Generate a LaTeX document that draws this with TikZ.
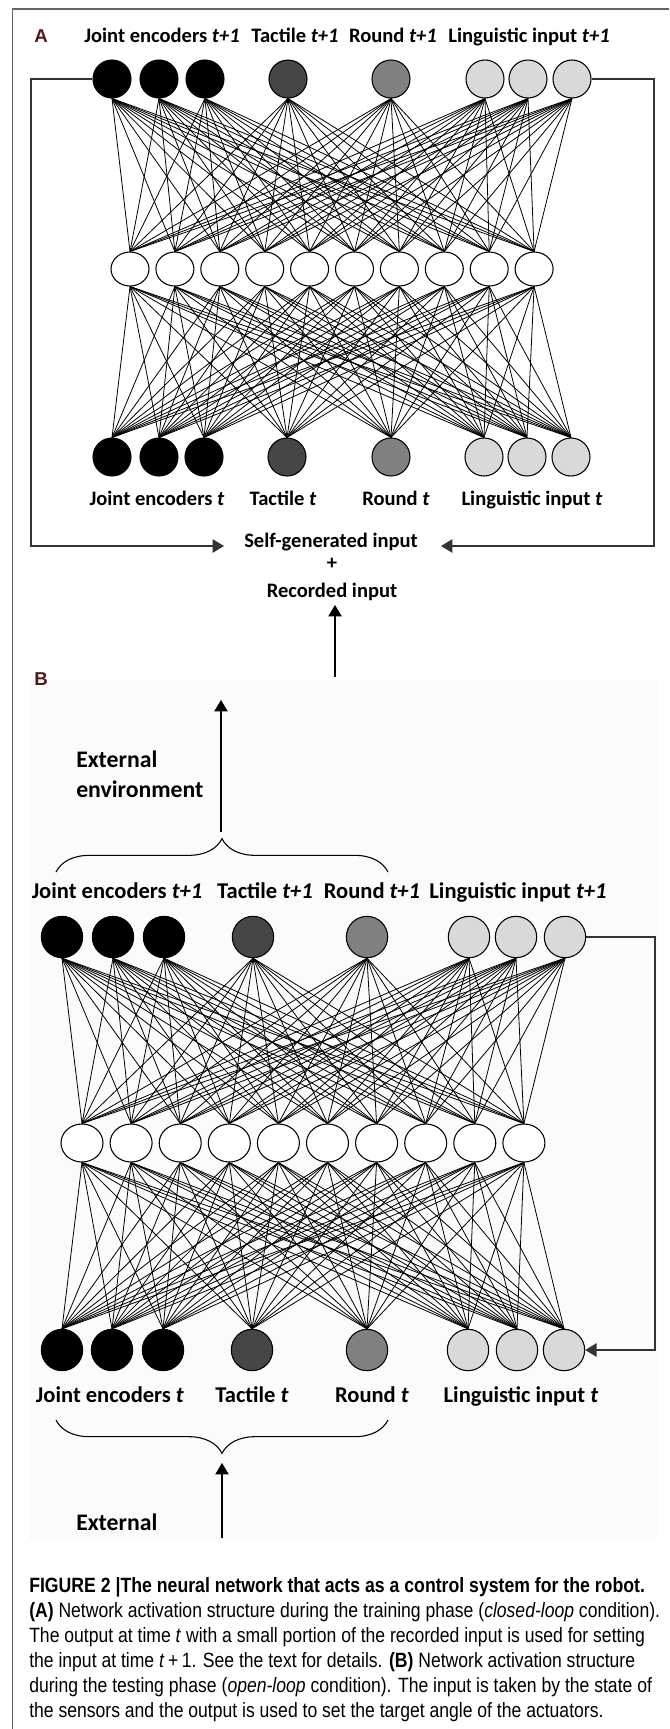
\documentclass[tikz,border=0pt]{standalone}
\usepackage{fontspec}
\setmainfont{Carlito}
\newfontfamily\capfont[FakeStretch=0.85]{Liberation Sans}
\newfontfamily\capbold[FakeStretch=0.855]{Liberation Sans}
\newfontfamily\panelfont{Liberation Sans}
\usetikzlibrary{arrows.meta,decorations.pathreplacing,shapes.geometric}
\definecolor{panelred}{RGB}{85,22,22}
\definecolor{tactgray}{RGB}{70,70,70}
\definecolor{roundgray}{RGB}{128,128,128}
\definecolor{linggray}{RGB}{217,217,217}
\definecolor{framegray}{RGB}{100,100,100}

\tikzset{
  unit/.style={circle,draw,line width=0.8pt,inner sep=0pt,minimum size=#1},
  hid/.style 2 args={ellipse,draw,fill=white,line width=0.8pt,inner sep=0pt,minimum width=#1,minimum height=#2},
  link/.style={line width=0.6pt},
  fb/.style={line width=1.1pt,color=black!80},
  tipped/.style={-{Triangle[length=8.5pt,width=10pt]}},
  lab/.style={font=\bfseries\fontsize{15.4}{18}\selectfont,inner sep=0.75pt,anchor=base},
  labb/.style={lab,font=\bfseries\fontsize{16.9}{20}\selectfont},
  panel/.style={font=\panelfont\bfseries\fontsize{14}{16}\selectfont,text=panelred,inner sep=0.75pt,anchor=base},
  capt/.style={font=\capfont\fontsize{15.5}{18}\selectfont,inner sep=0pt,anchor=base west},
  bracey/.style={decorate,decoration={brace,amplitude=25pt},line width=0.8pt},
}

\begin{document}
\begin{tikzpicture}[x=0.75pt,y=0.75pt,yscale=-1,xscale=1]
\useasboundingbox (0,0) rectangle (669,1729);

%Frame
\draw[framegray,line width=0.8pt] (12.7,1729) -- (12.7,9) -- (669,9);
%Panel B background
\fill[black!1.5] (29,680) rectangle (657,1540);

%Panel letters
\node[panel] (pa) at (41,42) {A};
\node[panel] (pb) at (41,685) {B};

%%%%%%%%%%%%%%%% A %%%%%%%%%%%%%%%%
%Output layer t+1
\foreach \x/\c [count=\i] in {112/black,159/black,205/black,288/tactgray,391/roundgray,485/linggray,528/linggray,572/linggray}
  \node[unit=28.5pt,fill=\c] (ta\i) at (\x,79) {};
%Hidden layer
\foreach \i in {1,...,10}
  \node[hid={28.5pt}{25.5pt}] (ha\i) at ({130+44.9*(\i-1)},269) {};
%Input layer t
\foreach \x/\c [count=\i] in {112/black,159/black,204/black,287/tactgray,391/roundgray,484/linggray,527/linggray,571/linggray}
  \node[unit=28.5pt,fill=\c] (ba\i) at (\x,457) {};
%Links
\foreach \i in {1,...,8}
  \foreach \j in {1,...,10}{
    \draw[link] (ta\i.south) -- (ha\j.north);
    \draw[link] (ba\i.north) -- (ha\j.south);
  }

% Text Node
\node[lab] (ja1) at (162,42) {Joint encoders \textit{t+1}};
\node[lab] (tc1) at (295,42) {Tactile \textit{t+1}};
\node[lab] (rd1) at (393,42) {Round \textit{t+1}};
\node[lab] (lg1) at (529,42) {Linguistic input \textit{t+1}};
\node[lab] (ja0) at (157,505) {Joint encoders \textit{t}};
\node[lab] (tc0) at (283,505) {Tactile \textit{t}};
\node[lab] (rd0) at (396,505) {Round \textit{t}};
\node[lab] (lg0) at (532,505) {Linguistic input \textit{t}};

\node[lab] (selfgen) at (331,547) {Self-generated input};
\node[lab] (plus) at (332,569) {+};
\begin{scope}
  \clip (200,575) rectangle (460,600);
  \node[lab] (recorded) at (332,597) {Recorded input};
\end{scope}

%Feedback A
\coordinate (lc) at (31,546);
\coordinate (la) at (224,546);
\coordinate (rc) at (654,546);
\coordinate (ra) at (441,546);
\draw[fb,tipped] (ta1.west) -| (lc) -- (la);
\draw[fb,tipped] (ta8.east) -| (rc) -- (ra);
\coordinate (recfoot) at (335,677);
\coordinate (rectip) at (335,605);
\draw[line width=0.8pt,tipped] (recfoot) -- (rectip);

%%%%%%%%%%%%%%%% B %%%%%%%%%%%%%%%%
%Output layer t+1
\foreach \x/\c [count=\i] in {62/black,113/black,164/black,253/tactgray,367/roundgray,469/linggray,516/linggray,565/linggray}
  \node[unit=31pt,fill=\c] (tb\i) at (\x,937) {};
%Hidden layer
\foreach \i in {1,...,10}
  \node[hid={31.5pt}{28.5pt}] (hb\i) at ({82+49.1*(\i-1)},1143) {};
%Input layer t
\foreach \x/\c [count=\i] in {62/black,112/black,163/black,252/tactgray,367/roundgray,468/linggray,517/linggray,564/linggray}
  \node[unit=31pt,fill=\c] (bb\i) at (\x,1350) {};
%Links
\foreach \i in {1,...,8}
  \foreach \j in {1,...,10}{
    \draw[link] (tb\i.south) -- (hb\j.north);
    \draw[link] (bb\i.north) -- (hb\j.south);
  }

% Text Node
\node[labb] (jb1) at (117,898) {Joint encoders \textit{t+1}};
\node[labb] (tcb1) at (265,898) {Tactile \textit{t+1}};
\node[labb] (rdb1) at (372,898) {Round \textit{t+1}};
\node[labb] (lgb1) at (518,898) {Linguistic input \textit{t+1}};
\node[labb] (jb0) at (110,1402) {Joint encoders \textit{t}};
\node[labb] (tcb0) at (252,1402) {Tactile \textit{t}};
\node[labb] (rdb0) at (372,1402) {Round \textit{t}};
\node[labb] (lgb0) at (521,1402) {Linguistic input \textit{t}};

\node[labb,font=\bfseries\fontsize{17.8}{20}\selectfont,anchor=base west] (ext1) at (75,767) {External};
\node[labb,font=\bfseries\fontsize{17.8}{20}\selectfont,anchor=base west] (env1) at (75,797) {environment};
\node[labb,font=\bfseries\fontsize{17.8}{20}\selectfont,anchor=base west] (ext0) at (75,1530) {External};

%Braces and arrows
\draw[bracey] (56,872) -- (388,872);
\draw[bracey] (388,1420) -- (56,1420);
\coordinate (upfoot) at (221,832);
\coordinate (uptip) at (221,700);
\draw[line width=0.8pt,tipped] (upfoot) -- (uptip);
\coordinate (infoot) at (222,1538);
\coordinate (intip) at (222,1463);
\draw[line width=0.8pt,tipped] (infoot) -- (intip);

%Feedback B
\coordinate (rcb) at (655,1350);
\draw[fb,tipped] (tb8.east) -| (rcb) -- (bb8.east);

%Caption
\node[capt,font=\capbold\bfseries\fontsize{15.5}{18}\selectfont] (cap1) at (29,1592) {FIGURE 2 |The neural network that acts as a control system for the robot.};
\node[capt] (cap2) at (29,1617) {\textbf{(A)} Network activation structure during the training phase (\textit{closed-loop} condition).};
\node[capt] (cap3) at (29,1642) {The output at time \textit{t} with a small portion of the recorded input is used for setting};
\node[capt] (cap4) at (29,1667) {the input at time \textit{t}\,+\,1. See the text for details. \textbf{(B)} Network activation structure};
\node[capt] (cap5) at (29,1692) {during the testing phase (\textit{open-loop} condition). The input is taken by the state of};
\node[capt] (cap6) at (29,1717) {the sensors and the output is used to set the target angle of the actuators.};

\end{tikzpicture}
\end{document}
